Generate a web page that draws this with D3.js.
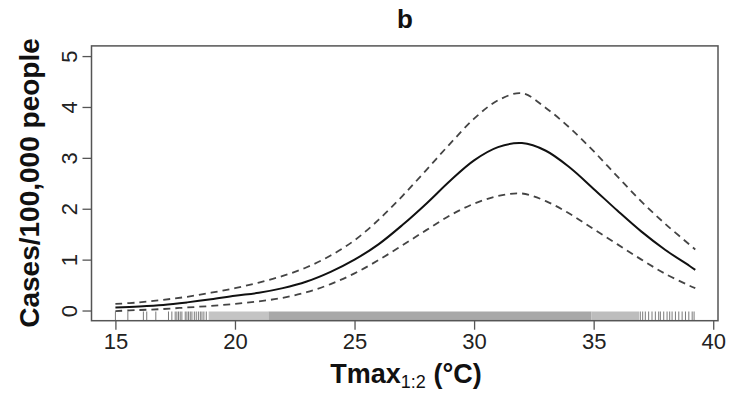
<!DOCTYPE html>
<html>
<head>
<meta charset="utf-8">
<script src="https://cdn.jsdelivr.net/npm/d3@7"></script>
<style>
  body { margin: 0; background: #fff; }
  text { font-family: "Liberation Sans", Arial, sans-serif; }
</style>
</head>
<body>
<div id="my_dataviz"></div>
<script>
// Tmax (lag 1:2) grid and fitted response with 95% band
var tmax =  [15, 16, 17, 18, 19, 20, 21, 22, 23, 24, 25, 26, 27, 28, 29, 30, 31, 32, 33, 34, 35, 36, 37, 38, 39, 39.25];
var fit =   [0.06, 0.08, 0.11, 0.16, 0.22, 0.29, 0.35, 0.44, 0.57, 0.76, 1.00, 1.30, 1.68, 2.10, 2.55, 2.95, 3.21, 3.29, 3.14, 2.81, 2.39, 1.96, 1.55, 1.19, 0.88, 0.80];
var upper = [0.13, 0.16, 0.21, 0.27, 0.35, 0.44, 0.55, 0.68, 0.85, 1.08, 1.38, 1.78, 2.25, 2.76, 3.28, 3.77, 4.13, 4.27, 3.98, 3.59, 3.13, 2.63, 2.14, 1.70, 1.30, 1.20];
var lower = [-0.01, 0.01, 0.03, 0.06, 0.09, 0.13, 0.18, 0.25, 0.36, 0.52, 0.73, 0.99, 1.28, 1.58, 1.87, 2.10, 2.25, 2.30, 2.15, 1.90, 1.60, 1.30, 1.00, 0.72, 0.49, 0.44];

// observed temperatures (rug): isolated ones plus dense stretches
var rugTicks = [15.0, 15.52, 16.17, 16.31, 16.69, 17.22, 17.36, 17.5, 17.57, 17.64, 17.71, 17.78, 17.92, 17.99, 18.06, 18.13, 18.2,
                18.3, 18.38, 18.47, 18.55, 18.62, 18.7, 18.8,
                36.95, 37.05, 37.16, 37.3, 37.44, 37.58, 37.72, 37.79, 37.93, 38.07, 38.18, 38.28, 38.42, 38.56, 38.7, 38.84, 38.98, 39.12, 39.2];
var rugBands = [[18.9, 21.4], [21.4, 34.9], [34.9, 36.9]];

var xTicks = [15, 20, 25, 30, 35, 40];
var yTicks = [0, 1, 2, 3, 4, 5];

var width = 738, height = 393;

var svg = d3.select("#my_dataviz")
    .append("svg")
    .attr("width", width)
    .attr("height", height);

var xScale = d3.scaleLinear().domain([14.0, 40.2]).range([91.5, 718]);
var yScale = d3.scaleLinear().domain([-0.2, 5.2]).range([320.7, 45.9]);

var bandFill = ["#c4c4c4", "#a8a8a8", "#bdbdbd"];

// rug bands
svg.selectAll(".band")
    .data(rugBands)
    .enter()
    .append("rect")
    .attr("x", function(d) { return xScale(d[0]); })
    .attr("width", function(d) { return xScale(d[1]) - xScale(d[0]); })
    .attr("y", 311.5)
    .attr("height", 320.7 - 311.5)
    .attr("fill", function(d, i) { return bandFill[i]; });

// rug ticks
svg.selectAll(".rug")
    .data(rugTicks)
    .enter()
    .append("line")
    .attr("x1", function(d) { return xScale(d); })
    .attr("x2", function(d) { return xScale(d); })
    .attr("y1", 311.5)
    .attr("y2", 320.7)
    .attr("stroke", "#7a7a7a")
    .attr("stroke-width", 1);

// curves
var rows = tmax.map(function(t, i) { return {t: t, fit: fit[i], up: upper[i], lo: lower[i]}; });

function lineFor(key) {
    return d3.line()
        .x(function(d) { return xScale(d.t); })
        .y(function(d) { return yScale(d[key]); })
        .curve(d3.curveCatmullRom.alpha(0.5));
}

svg.append("path").datum(rows)
    .attr("d", lineFor("up"))
    .attr("fill", "none").attr("stroke", "#444").attr("stroke-width", 1.8)
    .attr("stroke-dasharray", "7,5");

svg.append("path").datum(rows)
    .attr("d", lineFor("lo"))
    .attr("fill", "none").attr("stroke", "#444").attr("stroke-width", 1.8)
    .attr("stroke-dasharray", "7,5");

svg.append("path").datum(rows)
    .attr("d", lineFor("fit"))
    .attr("fill", "none").attr("stroke", "#111").attr("stroke-width", 2);

// box
svg.append("rect")
    .attr("x", xScale.range()[0])
    .attr("y", yScale.range()[1])
    .attr("width", xScale.range()[1] - xScale.range()[0])
    .attr("height", yScale.range()[0] - yScale.range()[1])
    .attr("fill", "none")
    .attr("stroke", "#555")
    .attr("stroke-width", 1.5);

// X axis
var xAxis = svg.append("g")
    .attr("transform", "translate(0," + yScale.range()[0] + ")")
    .call(d3.axisBottom(xScale).tickValues(xTicks).tickFormat(d3.format("d")).tickSize(9).tickPadding(4).tickSizeOuter(0));
xAxis.select(".domain").remove();
xAxis.selectAll("line").attr("stroke", "#555").attr("stroke-width", 1.3);
xAxis.selectAll("text")
    .attr("font-family", "Liberation Sans, Arial, sans-serif")
    .attr("font-size", 22)
    .attr("fill", "#222");

// Y axis
var yAxis = svg.append("g")
    .attr("transform", "translate(" + xScale.range()[0] + ",0)")
    .call(d3.axisLeft(yScale).tickValues(yTicks).tickFormat(d3.format("d")).tickSize(9).tickSizeOuter(0));
yAxis.select(".domain").remove();
yAxis.selectAll("line").attr("stroke", "#555").attr("stroke-width", 1.3);
yAxis.selectAll("text")
    .attr("font-family", "Liberation Sans, Arial, sans-serif")
    .attr("font-size", 22)
    .attr("fill", "#222")
    .attr("text-anchor", "middle")
    .attr("transform", "rotate(-90)")
    .attr("x", 0)
    .attr("y", -14.5)
    .attr("dy", null);

// title
svg.append("text")
    .attr("x", 405)
    .attr("y", 28)
    .attr("text-anchor", "middle")
    .attr("font-weight", "bold")
    .attr("font-size", 26)
    .attr("fill", "#111")
    .text("b");

// y title
svg.append("text")
    .attr("transform", "rotate(-90)")
    .attr("x", -183)
    .attr("y", 39)
    .attr("text-anchor", "middle")
    .attr("font-weight", "bold")
    .attr("font-size", 28)
    .attr("fill", "#111")
    .text("Cases/100,000 people");

// x title
var xt = svg.append("text")
    .attr("x", 406)
    .attr("y", 383)
    .attr("text-anchor", "middle")
    .attr("fill", "#111");
xt.append("tspan").attr("font-weight", "bold").attr("font-size", 27).text("Tmax");
xt.append("tspan").attr("font-size", 18).attr("dy", 5).text("1:2");
xt.append("tspan").attr("font-weight", "bold").attr("font-size", 27).attr("dy", -5).text(" (\u00B0C)");
</script>
</body>
</html>
